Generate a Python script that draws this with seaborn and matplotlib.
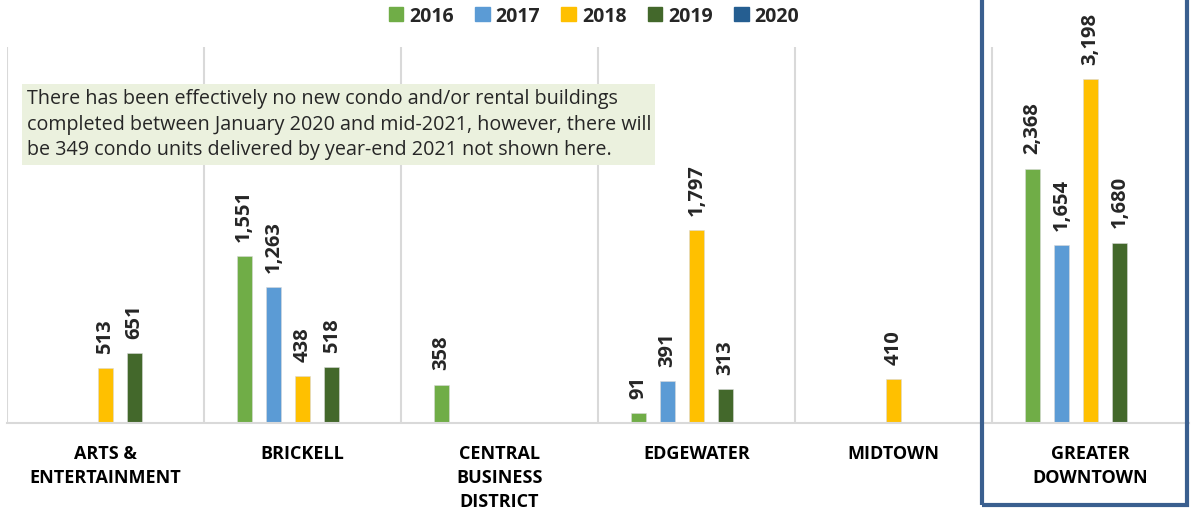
import matplotlib.pyplot as plt
import matplotlib.patches as mpatches
import numpy as np
import pandas as pd
import seaborn as sns

# Data
districts = ['ARTS &\nENTERTAINMENT', 'BRICKELL', 'CENTRAL\nBUSINESS\nDISTRICT',
             'EDGEWATER', 'MIDTOWN', 'GREATER\nDOWNTOWN']
years = ['2016', '2017', '2018', '2019', '2020']
units_2016 = [np.nan, 1551, 358, 91, np.nan, 2368]
units_2017 = [np.nan, 1263, np.nan, 391, np.nan, 1654]
units_2018 = [513, 438, np.nan, 1797, 410, 3198]
units_2019 = [651, 518, np.nan, 313, np.nan, 1680]
units_2020 = [np.nan, 0, np.nan, np.nan, np.nan, 0]
colors = ['#70AD47', '#5B9BD5', '#FFC000', '#43682B', '#255E91']
note = ("There has been effectively no new condo and/or rental buildings\n"
        "completed between January 2020 and mid-2021, however, there will\n"
        "be 349 condo units delivered by year-end 2021 not shown here.")

df = pd.DataFrame({'district': districts, '2016': units_2016, '2017': units_2017,
                   '2018': units_2018, '2019': units_2019, '2020': units_2020})
df = df.melt(id_vars='district', var_name='year', value_name='units').dropna()

sns.set_style('white')
plt.rcParams['font.family'] = ['Open Sans', 'DejaVu Sans']

fig = plt.figure(figsize=(11.91, 5.10), dpi=100)
ax = fig.add_axes([7 / 1191, 86 / 510, 1182 / 1191, 376 / 510])

sns.barplot(data=df, x='district', y='units', hue='year', order=districts,
            hue_order=years, palette=colors, saturation=1, width=0.74, gap=0.48,
            edgecolor='#D9D9D9', linewidth=0.4, ax=ax, legend=False)

for cont in ax.containers:
    ax.bar_label(cont, fmt=lambda v: f'{v:,.0f}' if v > 0 else '',
                 rotation=90, padding=11, fontsize=14.5, fontweight='bold')

ax.set_ylim(0, 3500)
ax.set_xlim(-0.5, len(districts) - 0.5)
ax.set_xlabel('')
ax.set_ylabel('')
ax.set_yticks([])
for s in ['top', 'right', 'left']:
    ax.spines[s].set_visible(False)
ax.spines['bottom'].set_color('#D9D9D9')
ax.spines['bottom'].set_linewidth(1.5)
for b in np.arange(-0.5, len(districts), 1.0):
    ax.axvline(b, color='#D9D9D9', lw=1.5, zorder=0)

ax.tick_params(axis='x', length=0, pad=15)
ax.set_xticks(range(len(districts)))
ax.set_xticklabels(districts, fontsize=13, fontweight='bold',
                   linespacing=1.42, va='top', color='black')

# legend
handles = [mpatches.Patch(color=c, label=y) for c, y in zip(colors, years)]
fig.legend(handles=handles, loc='center', bbox_to_anchor=(594 / 1191, 1 - 17 / 510),
           ncol=5, frameon=False, handlelength=0.75, handleheight=0.75,
           handletextpad=0.3, columnspacing=1.1,
           prop={'weight': 'bold', 'size': 14})

# note box
fig.patches.append(mpatches.Rectangle((22 / 1191, 1 - 166 / 510), 633 / 1191, 81 / 510,
                                      transform=fig.transFigure, facecolor='#EBF1DE',
                                      edgecolor='none', zorder=3))
fig.text(27 / 1191, 1 - 89 / 510, note, ha='left', va='top', fontsize=14.2,
         linespacing=1.38, color='#262626', zorder=4)

# highlight box around Greater Downtown
fig.patches.append(mpatches.Rectangle((982 / 1191, 4 / 510), 205 / 1191, 520 / 510,
                                      transform=fig.transFigure, facecolor='none',
                                      edgecolor='#3A5F8F', linewidth=3, zorder=5))

fig.savefig('out.png', dpi=100)
